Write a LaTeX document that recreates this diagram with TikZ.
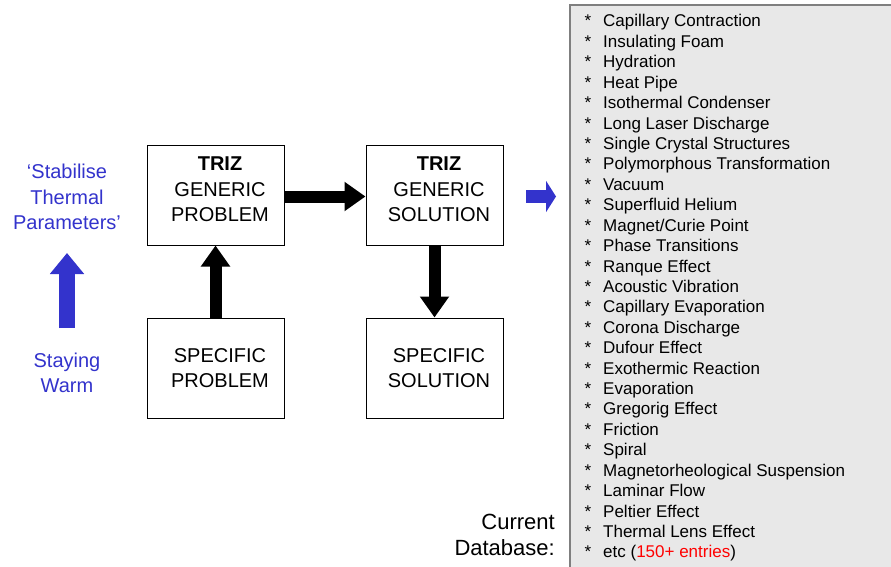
\documentclass[tikz,border=0pt]{standalone}
\usepackage{fontspec}
\setmainfont{Liberation Sans}
\usetikzlibrary{arrows.meta}
\definecolor{triblue}{HTML}{3333CC}
\definecolor{listgrey}{HTML}{E8E8E8}
\definecolor{listedge}{HTML}{7F7F7F}
\begin{document}
\begin{tikzpicture}[x=1pt,y=-1pt,
  stagebox/.style={draw=black,line width=1pt,fill=white,minimum width=137pt,minimum height=100pt,inner sep=0pt},
  stagetext/.style={align=center,inner sep=0pt,font=\fontsize{20}{25.5}\selectfont},
  bigarrow/.style={line width=12pt,-{Triangle[length=21pt,width=28pt]}},
  bluearrow/.style={triblue,line width=16pt,-{Triangle[length=21pt,width=33pt]}},
  bluetext/.style={text=triblue,align=center,font=\fontsize{20}{25.5}\selectfont,inner sep=0pt},
  item/.style={anchor=base west,inner sep=0pt,font=\fontsize{17}{20}\selectfont},
  star/.style={anchor=base,inner sep=0pt,font=\fontsize{17}{20}\selectfont},
]
\useasboundingbox (0,0) rectangle (891,567);

% database panel
\path[fill=listgrey,draw=listedge,line width=1.5pt] (570,5) -- (570,600) -- (900,600) -- (900,5) -- cycle;

% the four stages
\node[stagebox] (gp) at (215.5,195) {};
\node[stagebox] (gs) at (434.5,195) {};
\node[stagebox] (sp) at (215.5,368) {};
\node[stagebox] (ss) at (434.5,368) {};
\node[stagetext] (gpt) at (220,189.5) {\textbf{TRIZ}\\GENERIC\\PROBLEM};
\node[stagetext] (gst) at (439,189.5) {\textbf{TRIZ}\\GENERIC\\SOLUTION};
\node[stagetext] (spt) at (220,368) {SPECIFIC\\PROBLEM};
\node[stagetext] (sst) at (439,368) {SPECIFIC\\SOLUTION};

\draw[bigarrow] ([yshift=-1.5pt]gp.east) -- ([yshift=-1.5pt]gs.west);
\draw[bigarrow] (sp.north) -- (gp.south);
\draw[bigarrow] (gs.south) -- (ss.north);

% example problem on the left
\node[bluetext] (stab) at (67,197) {`Stabilise\\Thermal\\Parameters'};
\node[bluetext] (warm) at (67,373) {Staying\\Warm};
\coordinate (blueA) at (67,328);
\coordinate (blueB) at (67,253);
\draw[bluearrow] (blueA) -- (blueB);

% pointer to the database
\coordinate (ptrA) at (526,196.5);
\coordinate (ptrB) at (556,196.5);
\draw[triblue,line width=13pt,-{Triangle[length=10pt,width=31pt]}] (ptrA) -- (ptrB);

\node[anchor=east,align=right,inner sep=0pt,font=\fontsize{22}{26}\selectfont] (db) at (555,535) {Current\\Database:};

% database entries
\foreach \txt [count=\i from 0] in {
  Capillary Contraction, Insulating Foam, Hydration, Heat Pipe,
  Isothermal Condenser, Long Laser Discharge, Single Crystal Structures,
  Polymorphous Transformation, Vacuum, Superfluid Helium,
  Magnet/Curie Point, Phase Transitions, Ranque Effect,
  Acoustic Vibration, Capillary Evaporation, Corona Discharge,
  Dufour Effect, Exothermic Reaction, Evaporation, Gregorig Effect,
  Friction, Spiral, Magnetorheological Suspension, Laminar Flow,
  Peltier Effect, Thermal Lens Effect}
{
  \node[star] (s\i) at (588,{27+20.42*\i}) {*};
  \node[item] (e\i) at (603,{27+20.42*\i}) {\txt};
}
\node[star] (s26) at (588,{27+20.42*26}) {*};
\node[item] (e26) at (603,{27+20.42*26}) {etc (\textcolor{red}{150+ entries})};
\end{tikzpicture}
\end{document}
